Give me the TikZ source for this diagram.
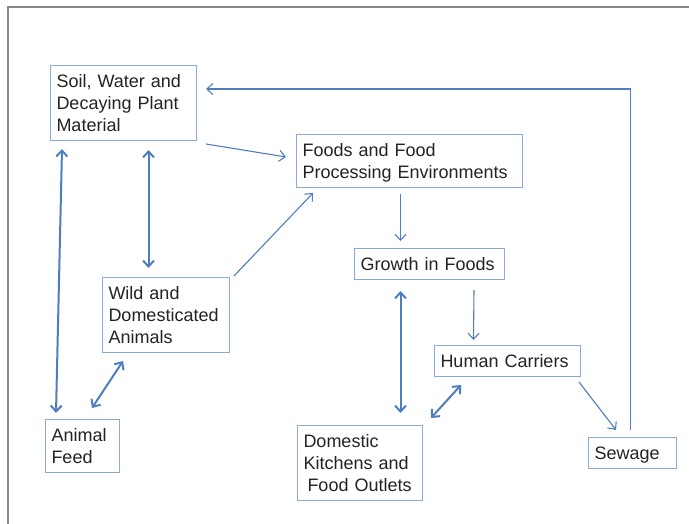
\documentclass[tikz,border=0pt]{standalone}
\usepackage{fontspec}
\setmainfont{Liberation Sans}
\usetikzlibrary{arrows.meta}

\definecolor{boxblue}{RGB}{140,170,212}
\definecolor{arrowblue}{RGB}{79,125,192}
\definecolor{textgray}{RGB}{35,35,35}
\definecolor{framegray}{RGB}{135,135,135}

\begin{document}
\begin{tikzpicture}[
  x=1pt, y=-1pt,
  font=\fontsize{18}{22}\selectfont,
  stage/.style={draw=boxblue, line width=1pt, fill=white, text=textgray,
    anchor=north west, align=left, inner xsep=6pt, inner ysep=4pt,
    execute at begin node=\rule{0pt}{18pt}, execute at end node=\rule[-5pt]{0pt}{5pt}},
  flow/.style={-{Straight Barb[length=6pt,width=11pt]}, draw=arrowblue, line width=1.1pt},
  link/.style={{Straight Barb[length=6pt,width=11pt]}-{Straight Barb[length=6pt,width=11pt]},
    draw=arrowblue, line width=2pt}]

  \useasboundingbox (0,0) rectangle (689,524);
  \draw[framegray, line width=1.5pt] (8,524) |- (689,7);

  % the stages
  \node[stage, text width=134pt] (soil) at (50,65) {Soil, Water and\\Decaying Plant\\Material};
  \node[stage, text width=214pt] (foods) at (296,134) {Foods and Food\\Processing Environments};
  \node[stage, text width=138pt] (growth) at (354,248) {Growth in Foods};
  \node[stage, text width=115pt] (wild) at (102,277) {Wild and\\Domesticated\\Animals};
  \node[stage, text width=134pt] (human) at (434,345) {Human Carriers};
  \node[stage, text width=62pt] (feed) at (45,419) {Animal\\Feed};
  \node[stage, text width=113pt] (kitchen) at (297,425) {Domestic\\Kitchens and\\\hspace{4pt}Food Outlets};
  \node[stage, text width=76pt] (sewage) at (588,437) {Sewage};

  % one-way flows
  \draw[flow] ([shift={(9,3)}]soil.south east) -- ([shift={(-10,-4)}]foods.west);
  \draw[flow] ([shift={(4,-1)}]wild.north east) -- ([shift={(17,5)}]foods.south west);
  \draw[flow] ([shift={(-9,6)}]foods.south) -- ([shift={(-29,-7)}]growth.north);
  \draw[flow] ([shift={(-31,10)}]growth.south east) -- ([shift={(-34,-5)}]human.north);
  \draw[flow] ([shift={(-2,5)}]human.south east) -- ([shift={(28,-7)}]sewage.north west);
  \draw[flow] ([shift={(-2,-7)}]sewage.north) |- ([shift={(9,-14)}]soil.east);

  % two-way links
  \draw[link] ([shift={(12,8)}]soil.south west) -- ([shift={(11,-6)}]feed.north west);
  \draw[link] ([shift={(25,9)}]soil.south) -- ([shift={(-17.5,-9)}]wild.north);
  \draw[link] ([shift={(21,8)}]wild.south west) -- ([shift={(-28,-11)}]feed.north east);
  \draw[link] ([shift={(-29,11)}]growth.south) -- ([shift={(40.5,-12)}]kitchen.north);
  \draw[link] ([shift={(27,8)}]human.south west) -- ([shift={(8,-7)}]kitchen.north east);

\end{tikzpicture}
\end{document}
